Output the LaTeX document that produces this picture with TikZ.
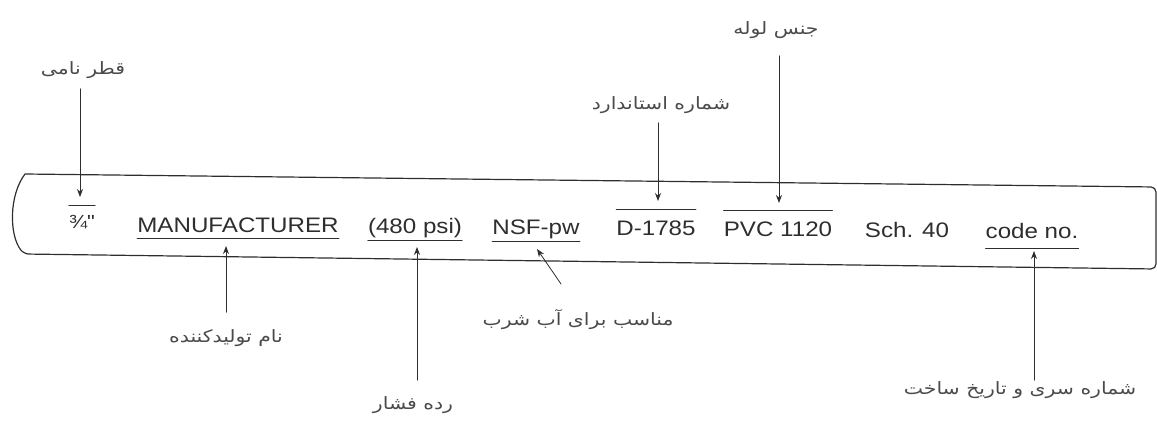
\documentclass[tikz,border=0pt]{standalone}
\usepackage{fontspec}
\usetikzlibrary{arrows.meta}
\setmainfont{Liberation Sans}
\newfontfamily\pipefont[FakeStretch=1.15]{Liberation Sans}
\newfontfamily\farsifont[Script=Arabic,FakeStretch=1.2]{DejaVu Sans}
\TeXXeTstate=1
\definecolor{PipeInk}{HTML}{2E2E2E}
\definecolor{LabelInk}{HTML}{4A4A4A}

\begin{document}
\begin{tikzpicture}[x=1pt,y=-1pt,line cap=round,line join=round,
  printed/.style={inner sep=0pt,anchor=base,text=PipeInk,font=\pipefont\fontsize{21}{25}\selectfont},
  farsi/.style={inner sep=1pt,text=LabelInk,font=\farsifont\fontsize{17}{20}\selectfont},
  pointer/.style={PipeInk,line width=.8pt,-{Stealth[length=8pt,width=6pt]}},
  rule/.style={PipeInk,line width=.9pt}]
  \useasboundingbox (0,0) rectangle (1157,424);
  % pipe outline
  \draw[PipeInk,line width=1.2pt,rounded corners=5pt] (25,174) -- (1156,187) -- (1156,269) -- (24,254)
    [sharp corners] .. controls (9,235) and (9,195) .. (25,174);
  % printed marking
  \node[printed,font=\pipefont\fontsize{19}{22}\selectfont] (dia) at (82,228) {¾"};
  \node[printed] (mfr) at (238,232) {MANUFACTURER};
  \node[printed] (psi) at (415,233) {(480 psi)};
  \node[printed] (nsf) at (536,234) {NSF-pw};
  \node[printed] (astm) at (656,235) {D-1785};
  \node[printed] (pvc) at (778,236) {PVC 1120};
  \node[printed] (sch) at (907,237) {Sch. 40};
  \node[printed] (code) at (1032,238) {code no.};
  \foreach \n/\d in {mfr/6,psi/7,nsf/7,code/10}
    {\draw[rule] ([yshift=-\d pt]\n.base west) -- ([yshift=-\d pt]\n.base east);}
  \foreach \n/\d in {dia/23,astm/26,pvc/26}
    {\draw[rule] ([yshift=\d pt]\n.base west) -- ([yshift=\d pt]\n.base east);}
  % labels
  \node[farsi] (lblDia) at (83,70) {\beginR قطر نامی\endR};
  \node[farsi] (lblPvc) at (776,30) {\beginR جنس لوله\endR};
  \node[farsi] (lblAstm) at (661,105) {\beginR شماره استاندارد\endR};
  \node[farsi] (lblMfr) at (226,338) {\beginR نام تولیدکننده\endR};
  \node[farsi] (lblPsi) at (413,405) {\beginR رده فشار\endR};
  \node[farsi] (lblNsf) at (578,320) {\beginR مناسب برای آب شرب\endR};
  \node[farsi] (lblCode) at (1020,390) {\beginR شماره سری و تاریخ ساخت\endR};
  \coordinate (tDia) at (80,197);\coordinate (tAstm) at (658,201);\coordinate (tPvc) at (779,203);
  \coordinate (tMfr) at (226,246);\coordinate (tPsi) at (417,247);
  \coordinate (tNsf) at (537,249);\coordinate (tCode) at (1034,251);
  % arrows
  \foreach \l/\t/\g in {lblDia/tDia/9,lblAstm/tAstm/8,lblPvc/tPvc/16}
    {\draw[pointer,shorten <=\g pt] (\t |- \l.south) -- (\t);}
  \foreach \l/\t/\g in {lblMfr/tMfr/16,lblPsi/tPsi/15,lblCode/tCode/0}
    {\draw[pointer,shorten <=\g pt] (\t |- \l.north) -- (\t);}
  \draw[pointer,shorten <=30pt] (lblNsf.north) -- (tNsf);
\end{tikzpicture}
\end{document}
